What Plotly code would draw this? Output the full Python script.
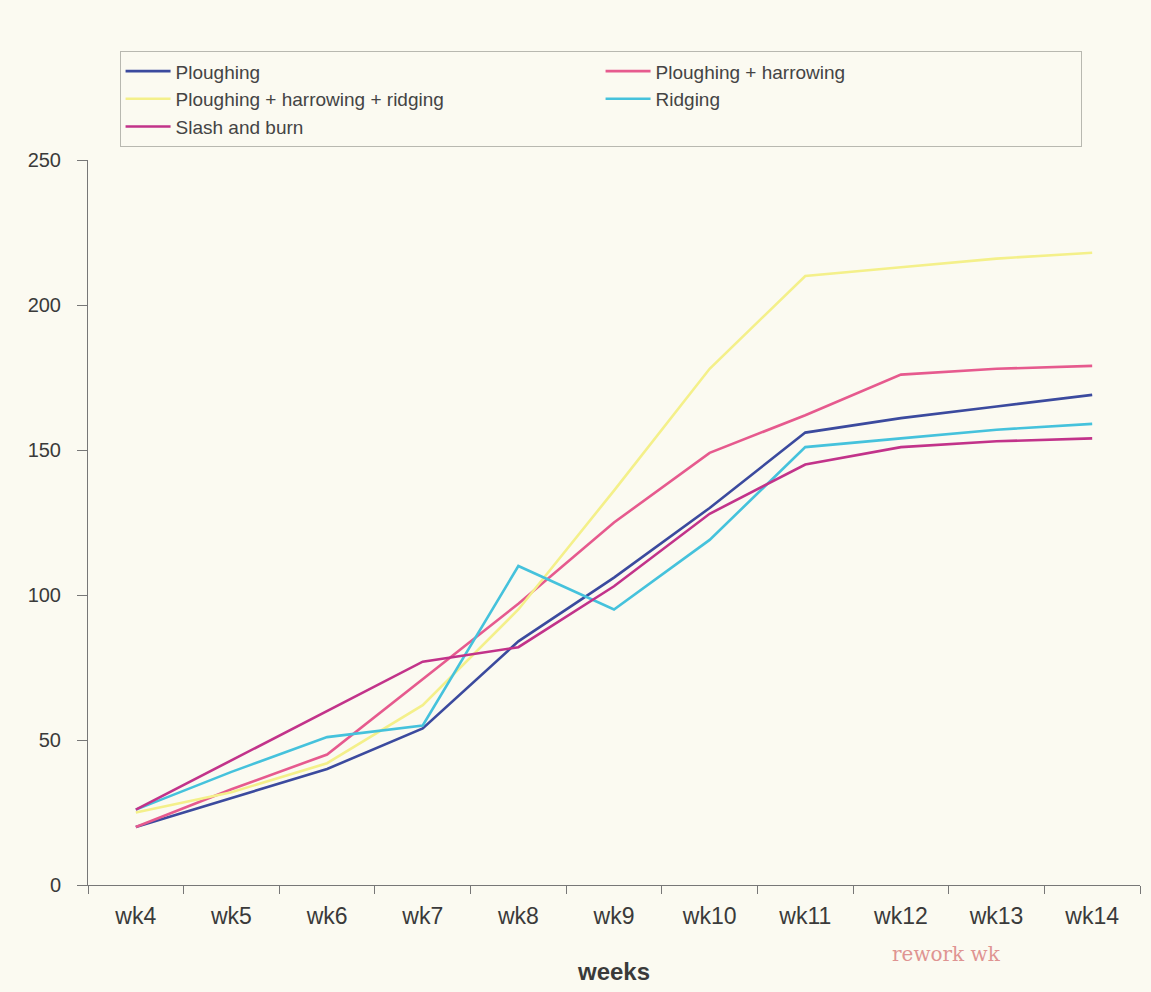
import plotly.graph_objects as go

# Weekly measurements per land-preparation method
weeks = ["wk4", "wk5", "wk6", "wk7", "wk8", "wk9", "wk10", "wk11", "wk12", "wk13", "wk14"]

ploughing = [20, 30, 40, 54, 84, 106, 130, 156, 161, 165, 169]
ploughing_harrowing = [20, 33, 45, 71, 97, 125, 149, 162, 176, 178, 179]
ploughing_harrowing_ridging = [25, 32, 42, 62, 95, 136, 178, 210, 213, 216, 218]
ridging = [26, 39, 51, 55, 110, 95, 119, 151, 154, 157, 159]
slash_and_burn = [26, 43, 60, 77, 82, 103, 128, 145, 151, 153, 154]

series = [
    ("Ploughing", ploughing, "#3B4A9E"),
    ("Ploughing + harrowing", ploughing_harrowing, "#E65A8E"),
    ("Ploughing + harrowing + ridging", ploughing_harrowing_ridging, "#F4F08A"),
    ("Ridging", ridging, "#45C2DC"),
    ("Slash and burn", slash_and_burn, "#C2338A"),
]

y_ticks = [0, 50, 100, 150, 200, 250]

fig = go.Figure()
for name, values, color in series:
    fig.add_trace(go.Scatter(
        x=weeks, y=values, name=name, mode="lines",
        line=dict(color=color, width=2.6),
    ))

paper = "#FBFAF1"
ink = "#3A3A3A"

fig.update_layout(
    width=1151, height=992,
    margin=dict(l=88, r=11, t=160, b=107),
    paper_bgcolor=paper, plot_bgcolor=paper,
    font=dict(family="Liberation Sans, Arial, sans-serif", color=ink),
    showlegend=True,
    legend=dict(
        orientation="h",
        x=0.03, xanchor="left",
        y=1.15, yanchor="top",
        entrywidth=420, entrywidthmode="pixels",
        itemwidth=45,
        font=dict(size=19, color="#444444"),
        bgcolor="rgba(0,0,0,0)",
        bordercolor="#B8B8B0", borderwidth=1,
        tracegroupgap=0,
        traceorder="normal",
    ),
    xaxis=dict(
        type="category",
        range=[-0.5, len(weeks) - 0.5],
        tickson="boundaries",
        ticks="outside", ticklen=8, tickcolor="#777777",
        showline=True, linecolor="#777777", linewidth=1,
        showgrid=False, zeroline=False,
        tickfont=dict(size=23, color=ink),
        ticklabelstandoff=10,
        title=dict(text="<b>weeks</b>", font=dict(size=24, color=ink), standoff=35),
    ),
    yaxis=dict(
        range=[0, 250],
        tickvals=y_ticks,
        ticks="outside", ticklen=10, tickcolor="#777777",
        showline=True, linecolor="#777777", linewidth=1,
        showgrid=False, zeroline=False,
        tickfont=dict(size=20, color=ink),
        ticklabelstandoff=12,
    ),
)

# handwritten note on the printout
fig.add_annotation(
    text="rework wk", xref="paper", yref="paper",
    x=0.87, y=-0.115, showarrow=False,
    font=dict(family="DejaVu Serif", size=20, color="#D46A6A"),
    opacity=0.7,
)

fig.write_html("out.html")
